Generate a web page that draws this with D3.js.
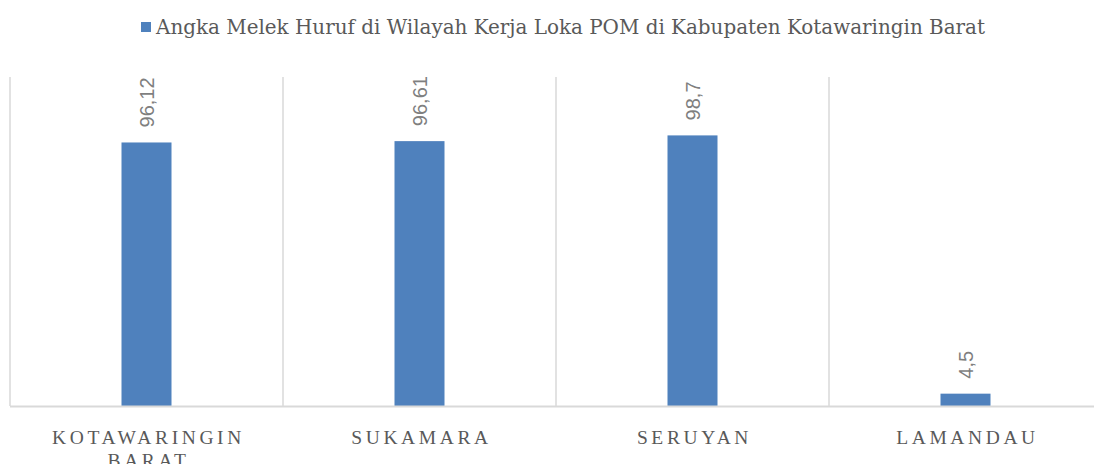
<!DOCTYPE html>
<html>
<head>
<meta charset="utf-8">
<script src="https://cdn.jsdelivr.net/npm/d3@7"></script>
<style>
  body { margin: 0; background: #fff; }
  svg { display: block; }
</style>
</head>
<body>
<svg width="1094" height="464"></svg>
<script>
// data
var categories = ["KOTAWARINGIN BARAT", "SUKAMARA", "SERUYAN", "LAMANDAU"];
var values = [96.12, 96.61, 98.7, 4.5];
var valueLabels = ["96,12", "96,61", "98,7", "4,5"];
var seriesName = "Angka Melek Huruf di Wilayah Kerja Loka POM di Kabupaten Kotawaringin Barat";

var svg = d3.select("svg");
var margin = { left: 10, right: -8, top: 77, bottom: 58 };
var width = 1094 - margin.left - margin.right;
var height = 464 - margin.top - margin.bottom;

var g = svg.append("g").attr("transform", "translate(" + margin.left + "," + margin.top + ")");

var x = d3.scaleBand().domain(categories).range([0, width]);
var y = d3.scaleLinear().domain([0, 120]).range([height, 0]);

// vertical separators between categories
var seps = categories.map(function (c) { return x(c); }).concat([width]);
g.selectAll(".sep")
  .data(seps)
  .enter()
  .append("line")
  .attr("x1", function (d) { return d; })
  .attr("x2", function (d) { return d; })
  .attr("y1", 0)
  .attr("y2", height)
  .attr("stroke", "#d9d9d9")
  .attr("stroke-width", 1.5);

// bars
var barW = 50;
g.selectAll(".bar")
  .data(values)
  .enter()
  .append("rect")
  .attr("x", function (d, i) { return x(categories[i]) + x.bandwidth() / 2 - barW / 2; })
  .attr("y", function (d) { return y(d); })
  .attr("width", barW)
  .attr("height", function (d) { return height - y(d); })
  .attr("fill", "#4f81bd");

// baseline
g.append("line")
  .attr("x1", 0).attr("x2", width)
  .attr("y1", height + 0.5).attr("y2", height + 0.5)
  .attr("stroke", "#d9d9d9")
  .attr("stroke-width", 2);

// value labels, rotated
g.selectAll(".lbl")
  .data(values)
  .enter()
  .append("text")
  .attr("transform", function (d, i) {
    var cx = x(categories[i]) + x.bandwidth() / 2;
    return "translate(" + (cx + 7) + "," + (y(d) - 15) + ") rotate(-90)";
  })
  .attr("text-anchor", "start")
  .attr("font-family", "Liberation Sans, Arial, sans-serif")
  .attr("font-size", 20)
  .attr("fill", "#7f7f7f")
  .text(function (d, i) { return valueLabels[i]; });

// category labels
var catText = g.selectAll(".cat")
  .data(categories)
  .enter()
  .append("text")
  .attr("x", function (d) { return x(d) + x.bandwidth() / 2; })
  .attr("y", height + 38)
  .attr("text-anchor", "middle")
  .attr("font-family", "Liberation Serif, Times New Roman, serif")
  .attr("font-size", 19.5)
  .attr("letter-spacing", 3.6)
  .attr("fill", "#595959");

catText.each(function (d) {
  var words = d === "KOTAWARINGIN BARAT" ? ["KOTAWARINGIN", "BARAT"] : [d];
  var t = d3.select(this);
  words.forEach(function (w, k) {
    t.append("tspan")
      .attr("x", x(d) + x.bandwidth() / 2 + 2)
      .attr("dy", k === 0 ? 0 : 23)
      .text(w);
  });
});

// legend
var legend = svg.append("g");
legend.append("rect")
  .attr("x", 141).attr("y", 22)
  .attr("width", 10).attr("height", 10)
  .attr("fill", "#4f81bd");
legend.append("text")
  .attr("x", 156).attr("y", 34)
  .attr("font-family", "DejaVu Serif Condensed, Liberation Serif, serif")
  .attr("font-size", 20)
  .attr("fill", "#595959")
  .attr("textLength", 829)
  .attr("lengthAdjust", "spacingAndGlyphs")
  .text(seriesName);
</script>
</body>
</html>
